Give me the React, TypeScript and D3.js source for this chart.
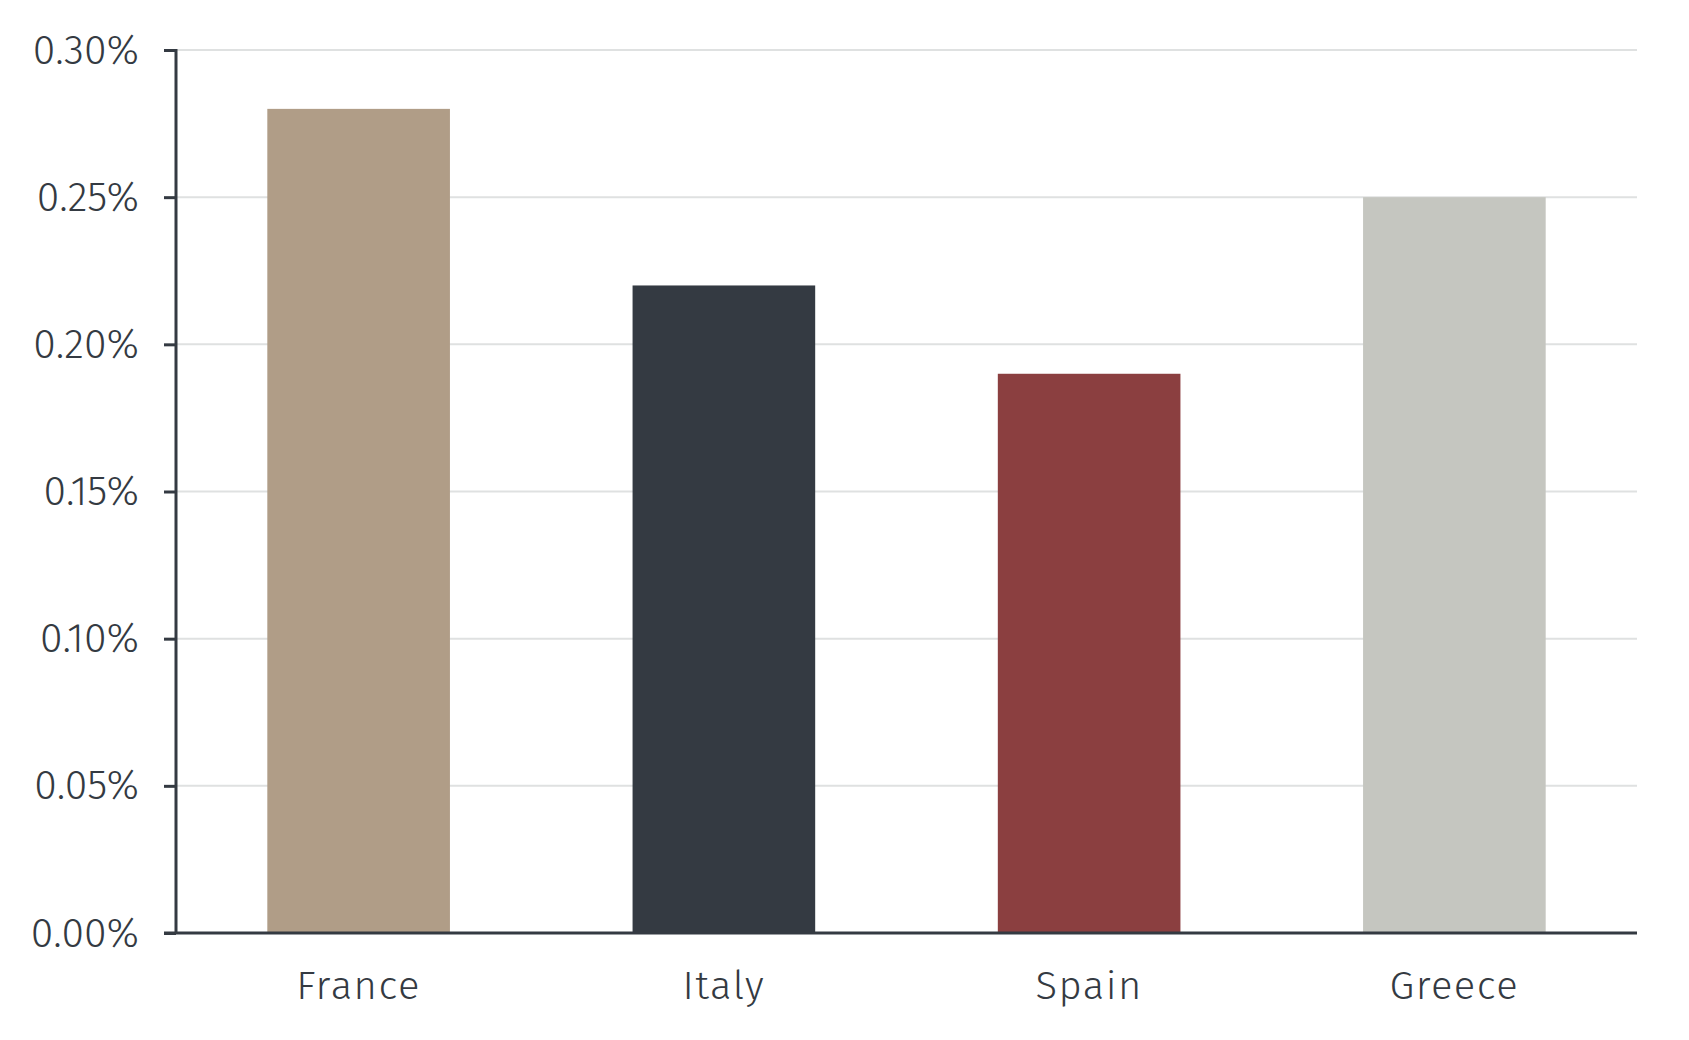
import { useEffect, useRef } from "react";
import * as d3 from "d3";

const countries = ["France", "Italy", "Spain", "Greece"];
const shares = [0.28, 0.22, 0.19, 0.25];
const barColors = ["#b09d87", "#343a42", "#8b3f40", "#c5c6c0"];
const yTicks = [0, 0.05, 0.1, 0.15, 0.2, 0.25, 0.3];

const W = 1689;
const H = 1040;
const FONT = "'Fira Sans', 'Open Sans', sans-serif";
const INK = "#343a42";

export default function App() {
  const ref = useRef<SVGSVGElement | null>(null);

  useEffect(() => {
    if (!ref.current) return;
    const svg = d3.select(ref.current);
    svg.selectAll("*").remove();

    const m = { t: 50, r: 52, b: 107, l: 176 };
    const w = W - m.l - m.r;
    const h = H - m.t - m.b;

    const x = d3.scaleBand<string>().domain(countries).range([0, w]).paddingInner(0.5).paddingOuter(0.25);
    const y = d3.scaleLinear().domain([0, 0.3]).range([h, 0]);

    const g = svg.append("g").attr("transform", `translate(${m.l},${m.t})`);

    // gridlines
    g.append("g")
      .selectAll("line")
      .data(yTicks.filter((d) => d > 0))
      .join("line")
      .attr("x1", 0)
      .attr("x2", w)
      .attr("y1", (d) => y(d))
      .attr("y2", (d) => y(d))
      .attr("stroke", "#dfe1e1")
      .attr("stroke-width", 2);

    g.append("g")
      .selectAll("rect")
      .data(shares)
      .join("rect")
      .attr("x", (_, i) => x(countries[i]) as number)
      .attr("y", (d) => y(d))
      .attr("width", x.bandwidth())
      .attr("height", (d) => h - y(d))
      .attr("fill", (_, i) => barColors[i]);

    // y axis
    const ya = g
      .append("g")
      .call(
        d3
          .axisLeft(y)
          .tickValues(yTicks)
          .tickSize(12)
          .tickPadding(25)
          .tickFormat((d) => `${(d as number).toFixed(2)}%`)
      );
    ya.select(".domain").attr("stroke", INK).attr("stroke-width", 3).attr("d", `M-12,0.5H0V${h}`);
    ya.selectAll(".tick line").attr("stroke", INK).attr("stroke-width", 3);
    ya.selectAll(".tick text")
      .attr("fill", INK)
      .style("font-family", FONT)
      .style("font-weight", 300)
      .style("font-size", "41px");

    // x axis
    const xa = g
      .append("g")
      .attr("transform", `translate(0,${h})`)
      .call(d3.axisBottom(x).tickSize(0).tickPadding(38));
    xa.select(".domain").attr("stroke", INK).attr("stroke-width", 3).attr("d", `M-12,0H${w}`);
    xa.selectAll(".tick text")
      .attr("fill", INK)
      .attr("dy", "0.71em")
      .style("font-family", FONT)
      .style("font-weight", 300)
      .style("font-size", "40px")
      .style("letter-spacing", "1.5px");
  }, []);

  return (
    <svg
      ref={ref}
      width={W}
      height={H}
      style={{ position: "absolute", left: 0, top: 0, background: "#fff", display: "block" }}
    />
  );
}
